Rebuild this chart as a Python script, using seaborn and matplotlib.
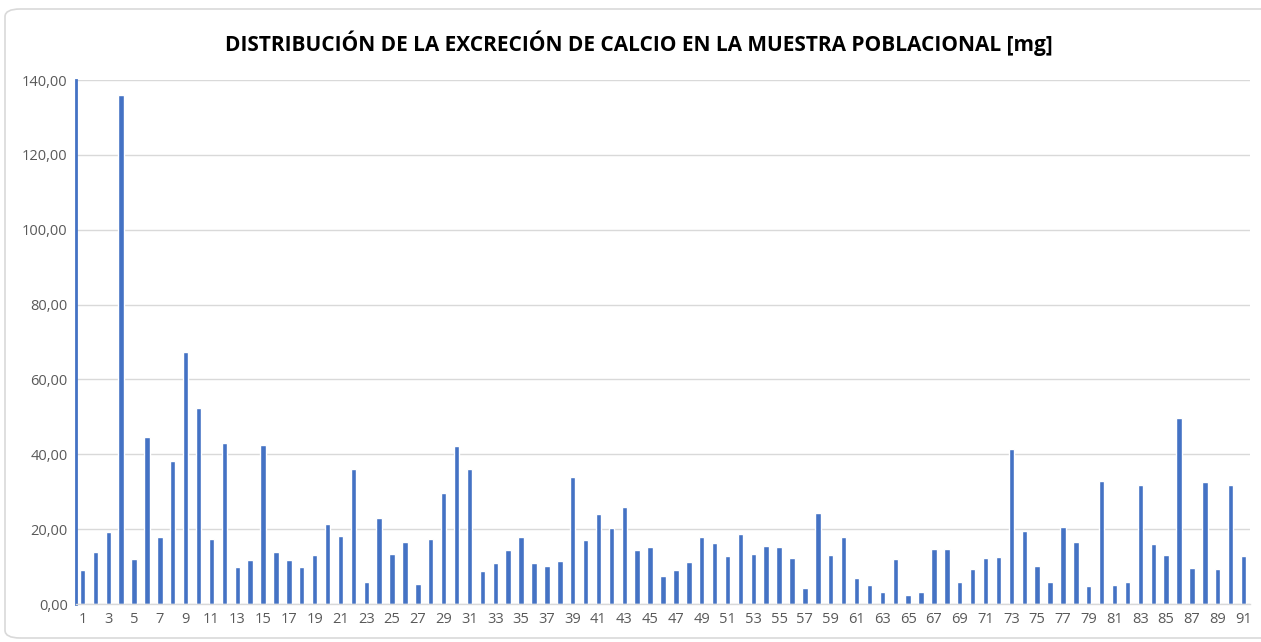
import matplotlib
matplotlib.use("Agg")
import matplotlib.pyplot as plt
import seaborn as sns
import pandas as pd
from matplotlib.patches import FancyBboxPatch
from matplotlib.ticker import FuncFormatter

# ── Datos ────────────────────────────────────────────────────────────────────
muestra = list(range(1, 92))
excrecion_mg = [
    9.0, 13.9, 19.3, 136.0, 11.9, 44.6, 17.9, 38.3, 67.3, 52.5,
    17.4, 43.1, 9.8, 11.7, 42.6, 13.9, 11.7, 9.8, 13.2, 21.3,
    18.3, 36.0, 6.0, 23.0, 13.4, 16.6, 5.3, 17.5, 29.6, 42.1,
    36.0, 8.7, 10.9, 14.4, 17.8, 10.9, 10.2, 11.5, 34.0, 17.1,
    24.0, 20.3, 26.0, 14.4, 15.1, 7.5, 9.0, 11.2, 17.8, 16.4,
    12.9, 18.8, 13.4, 15.6, 15.3, 12.4, 4.3, 24.2, 13.2, 18.0,
    7.0, 5.1, 3.3, 11.9, 2.3, 3.3, 14.8, 14.8, 6.0, 9.4,
    12.4, 12.6, 41.3, 19.6, 10.2, 6.0, 20.5, 16.5, 4.8, 32.8,
    5.1, 6.0, 31.8, 16.1, 13.2, 49.7, 9.7, 32.5, 9.4, 31.8,
    12.9,
]
y_ticks = [0, 20, 40, 60, 80, 100, 120, 140]

titulo = "DISTRIBUCIÓN DE LA EXCRECIÓN DE CALCIO EN LA MUESTRA POBLACIONAL [mg]"

df = pd.DataFrame({"Muestra": muestra, "Excrecion": excrecion_mg})

# ── Figura ───────────────────────────────────────────────────────────────────
sns.set_style("white")
plt.rcParams["font.family"] = ["Open Sans", "DejaVu Sans"]

W, H = 1261, 642
fig = plt.figure(figsize=(W / 100, H / 100), dpi=100)
ax = fig.add_axes([76 / W, 1 - 604 / H, (1250 - 76) / W, (604 - 80) / H])

sns.barplot(
    data=df, x="Muestra", y="Excrecion", ax=ax,
    color="#4472C4", saturation=1, width=0.42,
)

ax.set_ylim(0, 140)
ax.set_xlim(-0.5, len(muestra) - 0.5)
ax.set_yticks(y_ticks)
ax.yaxis.set_major_formatter(
    FuncFormatter(lambda v, _: f"{v:.2f}".replace(".", ","))
)
ax.set_xticks(range(len(muestra)))
ax.set_xticklabels([str(m) if m % 2 == 1 else "" for m in muestra])
ax.tick_params(axis="both", length=0, labelsize=10.5, colors="#595959", pad=6)
ax.set_xlabel("")
ax.set_ylabel("")

ax.grid(True, axis="y", color="#D9D9D9", linewidth=1)
ax.set_axisbelow(True)
for side in ["top", "right"]:
    ax.spines[side].set_visible(False)
ax.spines["bottom"].set_color("#D9D9D9")
ax.spines["bottom"].set_linewidth(1)
ax.spines["left"].set_color("#4472C4")
ax.spines["left"].set_linewidth(2)

fig.text(639 / W, 1 - 43 / H, titulo, ha="center", va="center",
         fontsize=15, fontweight="bold", color="#000000",
         family=["Open Sans", "DejaVu Sans"])

# marco redondeado del gráfico
marco = FancyBboxPatch(
    (5 / W, 4 / H), 1290 / W, (637 - 4 - 4) / H,
    boxstyle="round,pad=0,rounding_size=0.012",
    transform=fig.transFigure, facecolor="none",
    edgecolor="#D9D9D9", linewidth=1.2, clip_on=False,
)
fig.patches.append(marco)

fig.savefig("out.png", dpi=100)
